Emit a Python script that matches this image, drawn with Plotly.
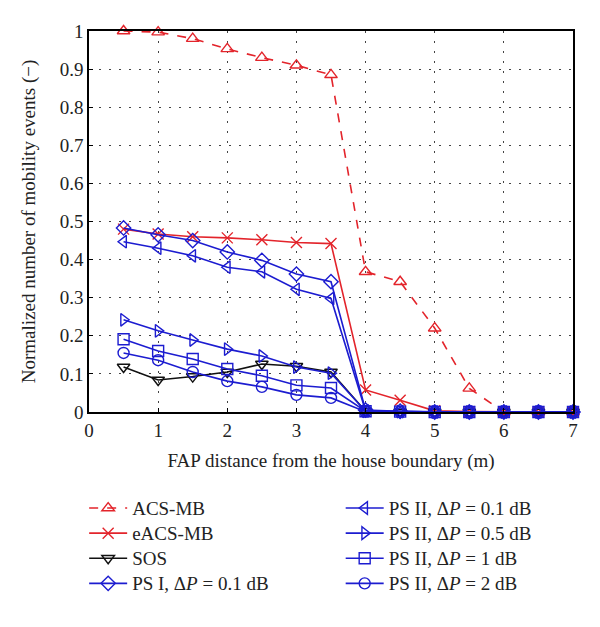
import plotly.graph_objects as go

x = [0.5, 1, 1.5, 2, 2.5, 3, 3.5, 4, 4.5, 5, 5.5, 6, 6.5, 7]

acs_mb = [1.0, 0.997, 0.98, 0.953, 0.93, 0.91, 0.885, 0.368, 0.342, 0.22, 0.062, 0.0, 0.0, 0.0]
eacs_mb = [0.48, 0.467, 0.46, 0.457, 0.452, 0.445, 0.442, 0.058, 0.031, 0.003, 0.001, 0.0, 0.0, 0.0]
sos = [0.118, 0.084, 0.093, 0.105, 0.126, 0.12, 0.105, 0.002, 0.0, 0.0, 0.0, 0.0, 0.0, 0.0]
ps1_01 = [0.483, 0.465, 0.45, 0.42, 0.398, 0.362, 0.342, 0.005, 0.002, 0.0, 0.0, 0.0, 0.0, 0.0]
ps2_01 = [0.447, 0.43, 0.41, 0.38, 0.368, 0.322, 0.298, 0.003, 0.001, 0.0, 0.0, 0.0, 0.0, 0.0]
ps2_05 = [0.242, 0.213, 0.189, 0.165, 0.147, 0.118, 0.102, 0.002, 0.001, 0.0, 0.0, 0.0, 0.0, 0.0]
ps2_1 = [0.191, 0.16, 0.139, 0.113, 0.095, 0.07, 0.063, 0.002, 0.001, 0.0, 0.0, 0.0, 0.0, 0.0]
ps2_2 = [0.155, 0.136, 0.105, 0.081, 0.066, 0.045, 0.037, 0.001, 0.0, 0.0, 0.0, 0.0, 0.0, 0.0]

y_ticks = [0, 0.1, 0.2, 0.3, 0.4, 0.5, 0.6, 0.7, 0.8, 0.9, 1]
y_ticklabels = ["0", "0.1", "0.2", "0.3", "0.4", "0.5", "0.6", "0.7", "0.8", "0.9", "1"]

RED = "#e3242b"
BLUE = "#1c1cd0"
BLACK = "#111111"
FONT = "Liberation Serif"

series = [
    ("ACS-MB", acs_mb, RED, "triangle-up-open", "dash", "legend"),
    ("eACS-MB", eacs_mb, RED, "x-thin-open", "solid", "legend"),
    ("SOS", sos, BLACK, "triangle-down-open", "solid", "legend"),
    ("PS I, Δ<i>P</i> = 0.1 dB", ps1_01, BLUE, "diamond-open", "solid", "legend"),
    ("PS II, Δ<i>P</i> = 0.1 dB", ps2_01, BLUE, "triangle-left-open", "solid", "legend2"),
    ("PS II, Δ<i>P</i> = 0.5 dB", ps2_05, BLUE, "triangle-right-open", "solid", "legend2"),
    ("PS II, Δ<i>P</i> = 1 dB", ps2_1, BLUE, "square-open", "solid", "legend2"),
    ("PS II, Δ<i>P</i> = 2 dB", ps2_2, BLUE, "circle-open", "solid", "legend2"),
]

fig = go.Figure()
for name, ys, col, sym, dash, leg in series:
    fig.add_trace(go.Scatter(
        x=x, y=ys, name='<span style="font-size:19px">' + name + '</span>',
        mode="lines+markers",
        line=dict(color=col, width=1.6, dash=dash),
        marker=dict(symbol=sym, size=11, color=col, line=dict(width=1.4, color=col)),
        legend=leg,
        cliponaxis=False,
    ))

axis_common = dict(
    showline=True, linecolor="black", linewidth=1.5, mirror=True,
    showgrid=True, gridcolor="#444444", griddash="2px,8px", gridwidth=1.2,
    zeroline=False, ticks="inside", ticklen=4, tickcolor="black",
    tickfont=dict(family=FONT, size=19, color="#222"),
)

fig.update_xaxes(range=[0, 7], dtick=1, tick0=0,
                 title=dict(text="FAP distance from the house boundary (m)",
                            font=dict(family=FONT, size=19, color="#222"), standoff=14),
                 **axis_common)
fig.update_yaxes(range=[0, 1], tickvals=y_ticks, ticktext=y_ticklabels,
                 title=dict(text="Normalized number of mobility events (−)",
                            font=dict(family=FONT, size=19, color="#222"), standoff=19),
                 **axis_common)

legfont = dict(family=FONT, size=17, color="#222")
fig.update_layout(
    width=600, height=627,
    margin=dict(l=89, r=27, t=31, b=215),
    paper_bgcolor="white", plot_bgcolor="white",
    font=dict(family=FONT),
    legend=dict(x=-0.01, y=-0.206, xanchor="left", yanchor="top",
                font=legfont, bgcolor="rgba(0,0,0,0)", tracegroupgap=0,
                itemwidth=38),
    legend2=dict(x=0.52, y=-0.206, xanchor="left", yanchor="top",
                 font=legfont, bgcolor="rgba(0,0,0,0)", tracegroupgap=0,
                 itemwidth=38),
)

fig.write_html("out.html", config={"displayModeBar": False},
               post_script="document.body.style.margin='0';")
